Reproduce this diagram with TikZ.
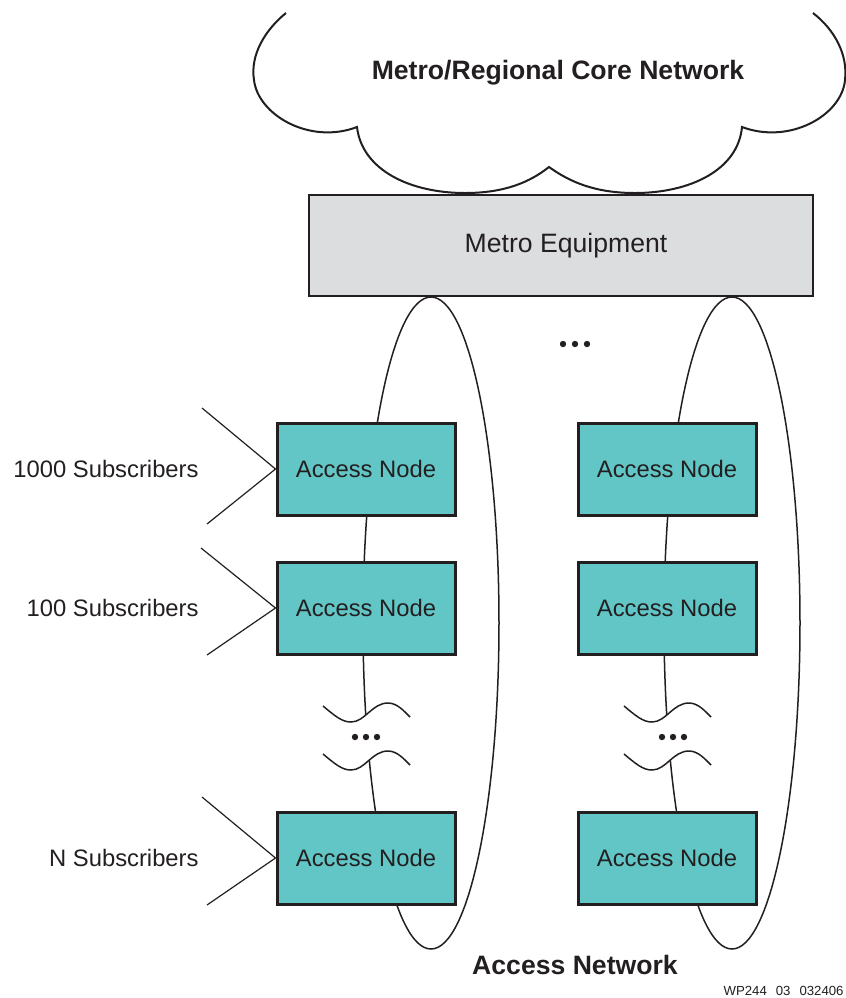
\documentclass[tikz,border=0pt]{standalone}
\usepackage{fontspec}
\setmainfont{Liberation Sans}
\usepackage{xcolor}
\usetikzlibrary{positioning,backgrounds}

\definecolor{inkdark}{RGB}{35,31,32}
\definecolor{accfill}{RGB}{99,198,198}
\definecolor{metrofill}{RGB}{220,221,223}

\begin{document}
\begin{tikzpicture}[
  x=0.5pt,y=-0.5pt,
  node distance=22pt and 60pt,
  acc/.style={draw=inkdark,line width=1.5pt,fill=accfill,minimum width=89pt,minimum height=46pt,inner sep=0pt,font=\fontsize{11.9}{14}\selectfont,text=inkdark},
  metro/.style={acc,line width=1.2pt,fill=metrofill,minimum width=252pt,minimum height=50.5pt,font=\fontsize{13.3}{16}\selectfont},
  lbl/.style={inner sep=0pt,font=\fontsize{11.9}{14}\selectfont,text=inkdark},
  ttl/.style={inner sep=0pt,font=\fontsize{13.3}{16}\selectfont\bfseries,text=inkdark},
  ring/.style={draw=inkdark,line width=0.75pt},
  feed/.style={draw=inkdark,line width=0.6pt},
  brk/.style={draw=inkdark,line width=0.75pt}
]
\useasboundingbox (0,0) rectangle (846,998);

% core cloud
\draw[inkdark,line width=1pt] (286,13) .. controls (265,30) and (250,55) .. (254,80)
  .. controls (258,115) and (310,145) .. (357,127)
  .. controls (362,170) and (410,193) .. (465,193)
  .. controls (505,193) and (530,182) .. (549,167)
  .. controls (570,182) and (595,193) .. (635,193)
  .. controls (690,193) and (738,170) .. (742,127)
  .. controls (790,145) and (842,115) .. (845,80)
  .. controls (848,55) and (835,30) .. (813,13);
\node[ttl] (core) at (558,73) {Metro/Regional Core Network};

\node[metro] (metro) at (561,245.5) {\hspace*{5pt}Metro Equipment};

% access nodes
\node[acc] (an1) at (366,469) {Access Node};
\node[acc,below=of an1] (an2) {Access Node};
\node[acc,below=77.5pt of an2] (an3) {Access Node};
\node[acc,right=of an1] (bn1) {Access Node};
\node[acc,right=of an2] (bn2) {Access Node};
\node[acc,right=of an3] (bn3) {Access Node};

% subscribers
\node[lbl,anchor=east] (sub1) at (199,469) {1000 Subscribers};
\node[lbl,anchor=east] (sub2) at (199,608) {100 Subscribers};
\node[lbl,anchor=east] (sub3) at (199,858) {N Subscribers};
\coordinate (f1a) at (202,408); \coordinate (f1b) at (207,524);
\coordinate (f2a) at (201,548); \coordinate (f2b) at (207,655);
\coordinate (f3a) at (202,797); \coordinate (f3b) at (207,905);
\draw[feed] (f1a) -- (an1.west) -- (f1b);
\draw[feed] (f2a) -- (an2.west) -- (f2b);
\draw[feed] (f3a) -- (an3.west) -- (f3b);

% access rings
\coordinate (ringA) at (431,623);
\coordinate (ringB) at (732,623);
\begin{scope}[on background layer]
  \draw[ring] (ringA) ellipse [x radius=34pt,y radius=163pt];
  \draw[ring] (ringB) ellipse [x radius=34pt,y radius=163pt];
\end{scope}

% breaks in the rings
\foreach \cx in {0,301}{
  \begin{scope}[shift={(\cx,0)}]
    \fill[white] (323,706) .. controls (335,716) and (342,722) .. (351,722)
      .. controls (365,722) and (372,703) .. (388,703)
      .. controls (397,703) and (404,711) .. (410,717)
      -- (410,765) .. controls (404,759) and (397,751) .. (388,751)
      .. controls (372,751) and (365,770) .. (351,770)
      .. controls (342,770) and (335,764) .. (323,754) -- cycle;
    \foreach \dy in {0,48}
      \draw[brk,shift={(0,\dy)}] (323,706) .. controls (335,716) and (342,722) .. (351,722)
        .. controls (365,722) and (372,703) .. (388,703)
        .. controls (397,703) and (404,711) .. (410,717);
  \end{scope}
}
\foreach \x in {355,366,377,662,673,684}
  \fill[inkdark] (\x,737) circle (1.6pt);
\foreach \x in {563,575,587}
  \fill[inkdark] (\x,344) circle (1.6pt);

\node[ttl] (accnet) at (575,965) {Access Network};
\node[inner sep=0pt,anchor=base east,font=\fontsize{6.6}{8}\selectfont,text=inkdark] (wpcode) at (844,995) {WP244\hspace{4.5pt}03\hspace{4.5pt}032406};
\end{tikzpicture}
\end{document}
